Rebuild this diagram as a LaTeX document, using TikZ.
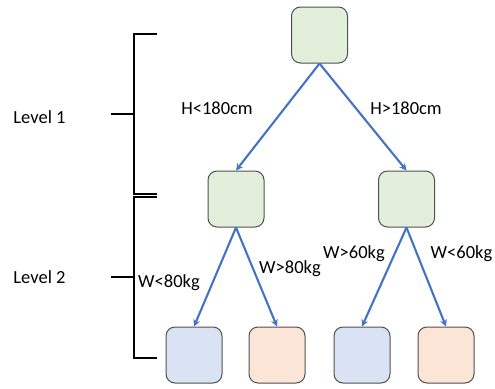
\documentclass[tikz,border=0pt]{standalone}
\usepackage{fontspec}
\setmainfont{Carlito}
\usetikzlibrary{arrows.meta}
\definecolor{edgeblue}{HTML}{4472C4}
\definecolor{boxgreen}{HTML}{E2EFDA}
\definecolor{boxblue}{HTML}{DAE3F3}
\definecolor{boxorange}{HTML}{FBE5D6}
\definecolor{boxline}{HTML}{505050}
\begin{document}
\begin{tikzpicture}[x=1pt,y=-1pt,
  treebox/.style={draw=boxline,line width=1pt,rounded corners=9pt,minimum width=56pt,minimum height=56pt,inner sep=0pt},
  branch/.style={draw=edgeblue,line width=2.1pt,-{Stealth[length=7pt,width=7pt]}},
  brace/.style={draw=black,line width=2pt},
  lbl/.style={font=\fontsize{18.5}{22}\selectfont,anchor=base,inner sep=0pt}]
\useasboundingbox (0,0) rectangle (495,388);
% tree nodes
\node[treebox,fill=boxgreen] (root) at (319.5,35) {};
\node[treebox,fill=boxgreen] (ml) at (236,199) {};
\node[treebox,fill=boxgreen] (mr) at (406.5,199) {};
\node[treebox,fill=boxblue] (b1) at (194,355) {};
\node[treebox,fill=boxorange] (b2) at (277,355) {};
\node[treebox,fill=boxblue] (b3) at (362,355) {};
\node[treebox,fill=boxorange] (b4) at (446,355) {};
% branches
\draw[branch] (root.south) -- (ml.north);
\draw[branch] (root.south) -- (mr.north);
\draw[branch] (ml.south) -- (b1.north);
\draw[branch] (ml.south) -- (b2.north);
\draw[branch] (mr.south) -- (b3.north);
\draw[branch] (mr.south) -- (b4.north);
% branch labels
\node[lbl] (l1) at (217,114) {H<180cm};
\node[lbl] (l2) at (406,114) {H>180cm};
\node[lbl] (l3) at (169,287) {W<80kg};
\node[lbl] (l4) at (290,273) {W>80kg};
\node[lbl] (l5) at (354,258) {W>60kg};
\node[lbl] (l6) at (461.5,258) {W<60kg};
% level brackets
\coordinate (a1) at (157,34);
\coordinate (a2) at (134,34);
\coordinate (a3) at (134,194);
\coordinate (a4) at (157,194);
\coordinate (am1) at (111,114);
\coordinate (am2) at (134,114);
\draw[brace] (a1) -- (a2) -- (a3) -- (a4);
\draw[brace] (am1) -- (am2);
\coordinate (c1) at (157,197);
\coordinate (c2) at (134,197);
\coordinate (c3) at (134,358);
\coordinate (c4) at (157,358);
\coordinate (cm1) at (111,277);
\coordinate (cm2) at (134,277);
\draw[brace] (c1) -- (c2) -- (c3) -- (c4);
\draw[brace] (cm1) -- (cm2);
% level labels
\node[lbl] (lev1) at (39.5,123) {Level 1};
\node[lbl] (lev2) at (39.5,283) {Level 2};
\end{tikzpicture}
\end{document}
